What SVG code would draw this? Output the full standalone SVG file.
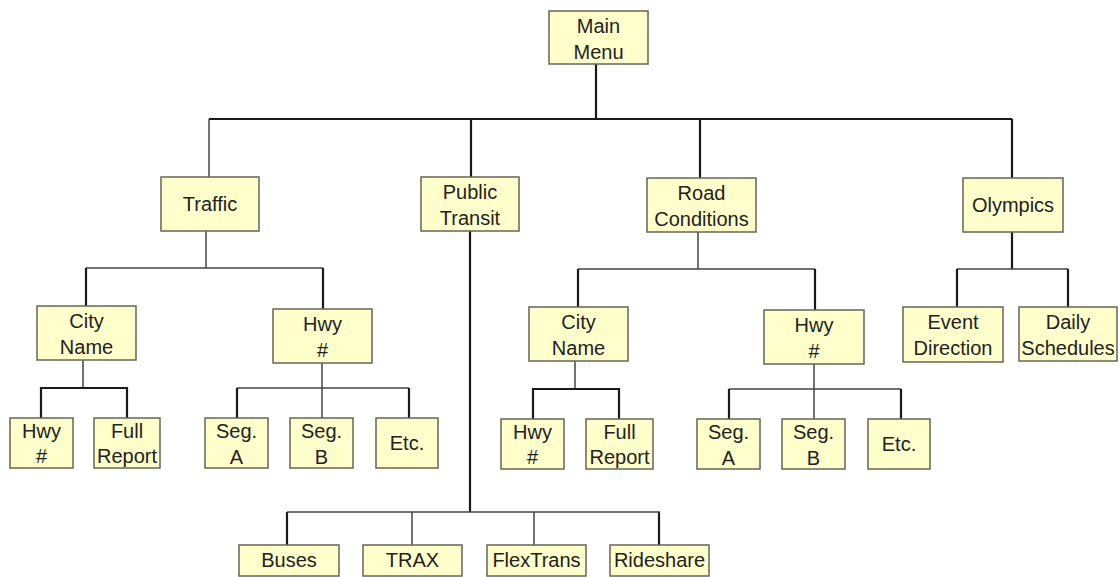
<svg xmlns="http://www.w3.org/2000/svg" width="1118" height="577" viewBox="0 0 1118 577">
<style>
.box{fill:#FFFFCC;stroke:#666655;stroke-width:1.5}
.t{font-family:"Liberation Sans",Arial,sans-serif;font-size:20px;fill:#222;text-anchor:middle}
.k{stroke:#1a1a1a;stroke-width:2.2;fill:none}
.n{stroke:#444;stroke-width:1.5;fill:none}
</style>
<rect width="1118" height="577" fill="#fff"/>
<g id="connectors">
<path class="k" d="M596 64V119M209 119H1012M471 119V177M700 119V178M1012 119V178"/>
<path class="n" d="M209 119V177"/>
<path class="n" d="M206 231V268M86 268H323"/>
<path class="k" d="M86 268V306M323 268V309"/>
<path class="n" d="M83 360V388"/>
<path class="k" d="M41 418V388H127V418"/>
<path class="n" d="M322 363V418M237 388H409"/>
<path class="k" d="M237 388V418M409 388V418"/>
<path class="k" d="M470 231V512M287 512V545M659 512V545"/>
<path class="n" d="M287 512H660M412 512V545M534 512V545"/>
<path class="n" d="M698 232V269M578 269H815"/>
<path class="k" d="M578 269V307M815 269V310"/>
<path class="n" d="M575 361V389"/>
<path class="k" d="M533 419V389H619V419"/>
<path class="n" d="M814 364V419M729 389H901"/>
<path class="k" d="M729 389V419M901 389V419"/>
<path class="k" d="M1012 232V269"/>
<path class="n" d="M957 269H1068"/>
<path class="k" d="M957 269V307M1068 269V307"/>
</g>
<g id="main"><rect class="box" x="549" y="11" width="99" height="53"/><text class="t" x="598.5" y="33">Main</text><text class="t" x="598.5" y="59">Menu</text></g>
<g id="traffic"><rect class="box" x="161" y="177" width="98" height="54"/><text class="t" x="210" y="211">Traffic</text></g>
<g id="public"><rect class="box" x="421" y="177" width="98" height="54"/><text class="t" x="470" y="199">Public</text><text class="t" x="470" y="225">Transit</text></g>
<g id="road"><rect class="box" x="647" y="178" width="109" height="54"/><text class="t" x="701.5" y="200">Road</text><text class="t" x="701.5" y="226">Conditions</text></g>
<g id="olympics"><rect class="box" x="963" y="178" width="100" height="54"/><text class="t" x="1013" y="212">Olympics</text></g>
<g id="t_city"><rect class="box" x="37" y="306" width="99" height="54"/><text class="t" x="86.5" y="328">City</text><text class="t" x="86.5" y="354">Name</text></g>
<g id="t_hwy"><rect class="box" x="273" y="309" width="99" height="54"/><text class="t" x="322.5" y="331">Hwy</text><text class="t" x="322.5" y="357">#</text></g>
<g id="t_hwy2"><rect class="box" x="10" y="418" width="63" height="50"/><text class="t" x="41.5" y="438">Hwy</text><text class="t" x="41.5" y="463">#</text></g>
<g id="t_full"><rect class="box" x="94" y="418" width="66" height="50"/><text class="t" x="127" y="438">Full</text><text class="t" x="127" y="463">Report</text></g>
<g id="t_sega"><rect class="box" x="205" y="418" width="63" height="50"/><text class="t" x="236.5" y="438">Seg.</text><text class="t" x="236.5" y="464">A</text></g>
<g id="t_segb"><rect class="box" x="290" y="418" width="63" height="50"/><text class="t" x="321.5" y="438">Seg.</text><text class="t" x="321.5" y="464">B</text></g>
<g id="t_etc"><rect class="box" x="376" y="418" width="62" height="50"/><text class="t" x="407" y="450">Etc.</text></g>
<g id="r_city"><rect class="box" x="529" y="307" width="99" height="54"/><text class="t" x="578.5" y="329">City</text><text class="t" x="578.5" y="355">Name</text></g>
<g id="r_hwy"><rect class="box" x="764" y="310" width="100" height="54"/><text class="t" x="814" y="332">Hwy</text><text class="t" x="814" y="358">#</text></g>
<g id="r_hwy2"><rect class="box" x="501" y="419" width="63" height="50"/><text class="t" x="532.5" y="439">Hwy</text><text class="t" x="532.5" y="464">#</text></g>
<g id="r_full"><rect class="box" x="586" y="419" width="67" height="50"/><text class="t" x="619.5" y="439">Full</text><text class="t" x="619.5" y="464">Report</text></g>
<g id="r_sega"><rect class="box" x="697" y="419" width="63" height="50"/><text class="t" x="728.5" y="439">Seg.</text><text class="t" x="728.5" y="465">A</text></g>
<g id="r_segb"><rect class="box" x="782" y="419" width="63" height="50"/><text class="t" x="813.5" y="439">Seg.</text><text class="t" x="813.5" y="465">B</text></g>
<g id="r_etc"><rect class="box" x="868" y="419" width="62" height="50"/><text class="t" x="899" y="451">Etc.</text></g>
<g id="event"><rect class="box" x="903" y="307" width="100" height="55"/><text class="t" x="953" y="329">Event</text><text class="t" x="953" y="355">Direction</text></g>
<g id="daily"><rect class="box" x="1019" y="307" width="98" height="54"/><text class="t" x="1068" y="329">Daily</text><text class="t" x="1068" y="355">Schedules</text></g>
<g id="buses"><rect class="box" x="239" y="545" width="100" height="31"/><text class="t" x="289" y="567">Buses</text></g>
<g id="trax"><rect class="box" x="363" y="545" width="99" height="31"/><text class="t" x="412.5" y="567">TRAX</text></g>
<g id="flextrans"><rect class="box" x="487" y="545" width="99" height="31"/><text class="t" x="536.5" y="567">FlexTrans</text></g>
<g id="rideshare"><rect class="box" x="610" y="545" width="99" height="31"/><text class="t" x="659.5" y="567">Rideshare</text></g>
</svg>
